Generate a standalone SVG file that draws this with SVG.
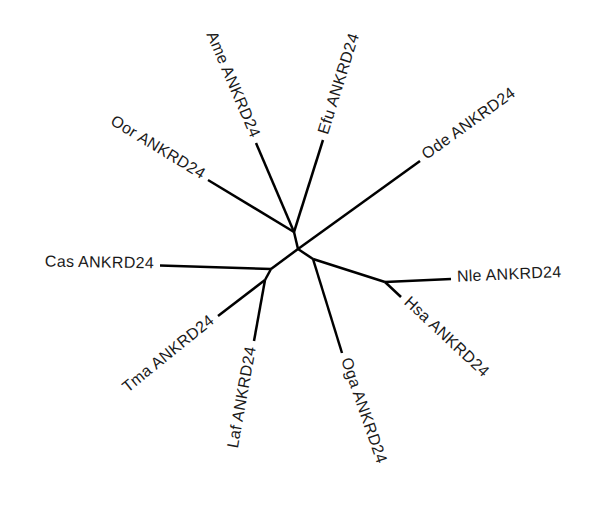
<svg xmlns="http://www.w3.org/2000/svg" width="602" height="520" viewBox="0 0 602 520">
<style>
.e{stroke:#000;stroke-width:2.5;fill:none;stroke-linecap:butt}
text{font-family:"Liberation Sans",Arial,sans-serif;font-size:16px;fill:#1a1a1a;letter-spacing:0.3px}
.s{text-anchor:start}.n{text-anchor:end}
</style>
<rect width="602" height="520" fill="#fff"/>
<g id="connectors">
<line class="e" x1="298" y1="249" x2="294" y2="232"/>
<line class="e" x1="294" y1="232" x2="208" y2="180"/>
<line class="e" x1="294" y1="232" x2="256" y2="143"/>
<line class="e" x1="294" y1="232" x2="323" y2="140"/>
<line class="e" x1="298" y1="249" x2="420" y2="161"/>
<line class="e" x1="298" y1="249" x2="271" y2="269"/>
<line class="e" x1="271" y1="269" x2="160" y2="265.5"/>
<line class="e" x1="271" y1="269" x2="265" y2="280"/>
<line class="e" x1="265" y1="280" x2="218" y2="316"/>
<line class="e" x1="265" y1="280" x2="254" y2="341"/>
<line class="e" x1="298" y1="249" x2="313" y2="259"/>
<line class="e" x1="313" y1="259" x2="342" y2="353"/>
<line class="e" x1="313" y1="259" x2="385" y2="282"/>
<line class="e" x1="385" y1="282" x2="451" y2="279"/>
<line class="e" x1="385" y1="282" x2="401" y2="297"/>
</g>
<g id="Oor"><text class="n" transform="translate(208,180) rotate(31.2)" x="-6" y="3">Oor ANKRD24</text></g>
<g id="Ame"><text class="n" transform="translate(256,143) rotate(66.9)" x="-6" y="3">Ame ANKRD24</text></g>
<g id="Efu"><text class="s" transform="translate(323,140) rotate(-72.5)" x="6" y="3">Efu ANKRD24</text></g>
<g id="Ode"><text class="s" transform="translate(420,161) rotate(-35.8)" x="6" y="3">Ode ANKRD24</text></g>
<g id="Cas"><text class="n" transform="translate(160,265.5) rotate(1)" x="-6" y="3">Cas ANKRD24</text></g>
<g id="Tma"><text class="n" transform="translate(218,316) rotate(-39)" x="-6" y="3">Tma ANKRD24</text></g>
<g id="Laf"><text class="n" transform="translate(254,341) rotate(-79.8)" x="-6" y="3">Laf ANKRD24</text></g>
<g id="Oga"><text class="s" transform="translate(342,353) rotate(71)" x="6" y="3">Oga ANKRD24</text></g>
<g id="Hsa"><text class="s" transform="translate(401,297) rotate(43)" x="6" y="3">Hsa ANKRD24</text></g>
<g id="Nle"><text class="s" transform="translate(451,279) rotate(-2.6)" x="6" y="3">Nle ANKRD24</text></g>
</svg>
